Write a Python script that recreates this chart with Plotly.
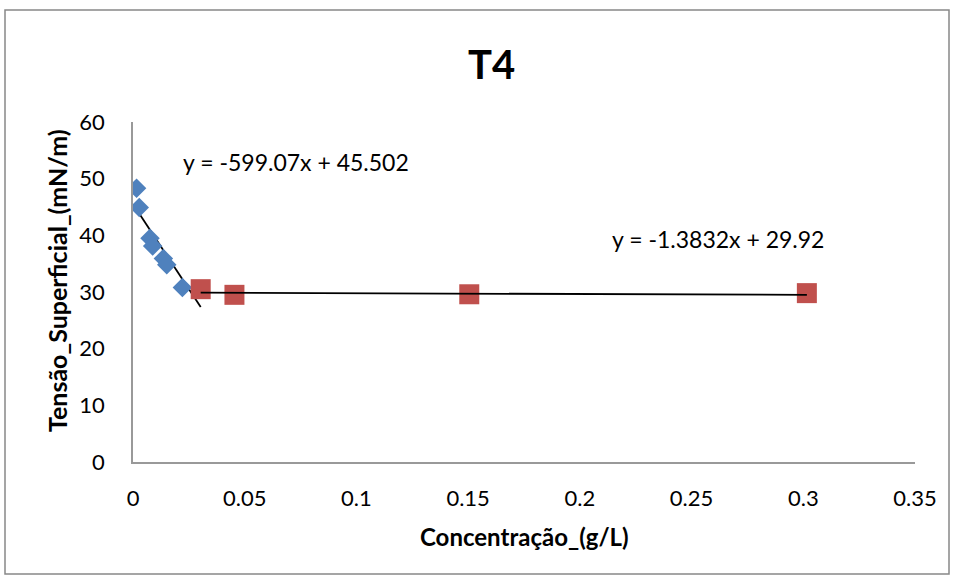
import plotly.graph_objects as go
import numpy as np

# Data
blue_x = [0.0016, 0.0028, 0.0076, 0.0088, 0.0136, 0.0151, 0.0221]
blue_y = [48.3, 44.9, 39.5, 38.1, 35.9, 34.8, 30.8]
red_x = [0.0303, 0.0454, 0.1505, 0.3016]
red_y = [30.5, 29.5, 29.6, 29.8]

# Trendline coefficients (from labels)
blue_slope, blue_int = -599.07, 45.502
red_slope, red_int = -1.3832, 29.92
blue_fit_range = [0.0016, 0.0303]
red_fit_range = [0.0303, 0.3016]

title = "T4"
x_title = "Concentração_(g/L)"
y_title = "Tensão_Superficial_(mN/m)"
eq_blue = "y = -599.07x + 45.502"
eq_red = "y = -1.3832x + 29.92"

FONT = "Lato"

fig = go.Figure()

bx = np.array(blue_fit_range)
rx = np.array(red_fit_range)
fig.add_trace(go.Scatter(x=bx, y=blue_slope * bx + blue_int, mode="lines",
                         line=dict(color="black", width=1.8), showlegend=False))
fig.add_trace(go.Scatter(x=blue_x, y=blue_y, mode="markers",
                         marker=dict(symbol="diamond", size=15, color="#4F81BD"),
                         showlegend=False))
fig.add_trace(go.Scatter(x=red_x, y=red_y, mode="markers",
                         marker=dict(symbol="square", size=20, color="#C0504D"),
                         showlegend=False))
fig.add_trace(go.Scatter(x=rx, y=red_slope * rx + red_int, mode="lines",
                         line=dict(color="black", width=1.8), showlegend=False))

fig.update_layout(
    width=954, height=578,
    margin=dict(l=133, r=39, t=122, b=116),
    paper_bgcolor="white", plot_bgcolor="white",
    font=dict(family=FONT, size=22, color="black"),
    showlegend=False,
)
fig.update_xaxes(range=[0, 0.35], dtick=0.05, tick0=0, showgrid=False, zeroline=False,
                 showline=True, linecolor="#999999", linewidth=1.5, ticks="",
                 ticklabelstandoff=16, tickfont=dict(size=22, family=FONT))
fig.update_yaxes(range=[0, 60], dtick=10, tick0=0, showgrid=False, zeroline=False,
                 showline=True, linecolor="#999999", linewidth=1.5, ticks="",
                 ticklabelstandoff=22, tickfont=dict(size=22, family=FONT))

fig.add_annotation(text=f"<b>{title}</b>", xref="paper", yref="paper",
                   x=0.459, y=(462 - 64) / 340, xanchor="center", yanchor="middle",
                   showarrow=False, font=dict(size=40, family=FONT))
fig.add_annotation(text=f"<b>{x_title}</b>", xref="paper", yref="paper",
                   x=(524 - 133) / 782, y=(462 - 536) / 340, xanchor="center", yanchor="middle",
                   showarrow=False, font=dict(size=24, family=FONT))
fig.add_annotation(text=f"<b>{y_title}</b>", xref="paper", yref="paper",
                   x=(57 - 133) / 782, y=(462 - 281) / 340, xanchor="center", yanchor="middle",
                   textangle=-90, showarrow=False, font=dict(size=25, family=FONT))
fig.add_annotation(text=eq_blue, xref="x", yref="y", x=0.073, y=52.9,
                   xanchor="center", yanchor="middle", showarrow=False,
                   font=dict(size=23, family=FONT))
fig.add_annotation(text=eq_red, xref="x", yref="y", x=0.262, y=39.35,
                   xanchor="center", yanchor="middle", showarrow=False,
                   font=dict(size=23, family=FONT))

fig.add_shape(type="rect", xref="paper", yref="paper",
              x0=(5 - 133) / 782, x1=(949 - 133) / 782,
              y0=(462 - 574) / 340, y1=(462 - 10) / 340,
              line=dict(color="#888888", width=1.5), fillcolor="rgba(0,0,0,0)", layer="below")

fig.write_html("out.html")
